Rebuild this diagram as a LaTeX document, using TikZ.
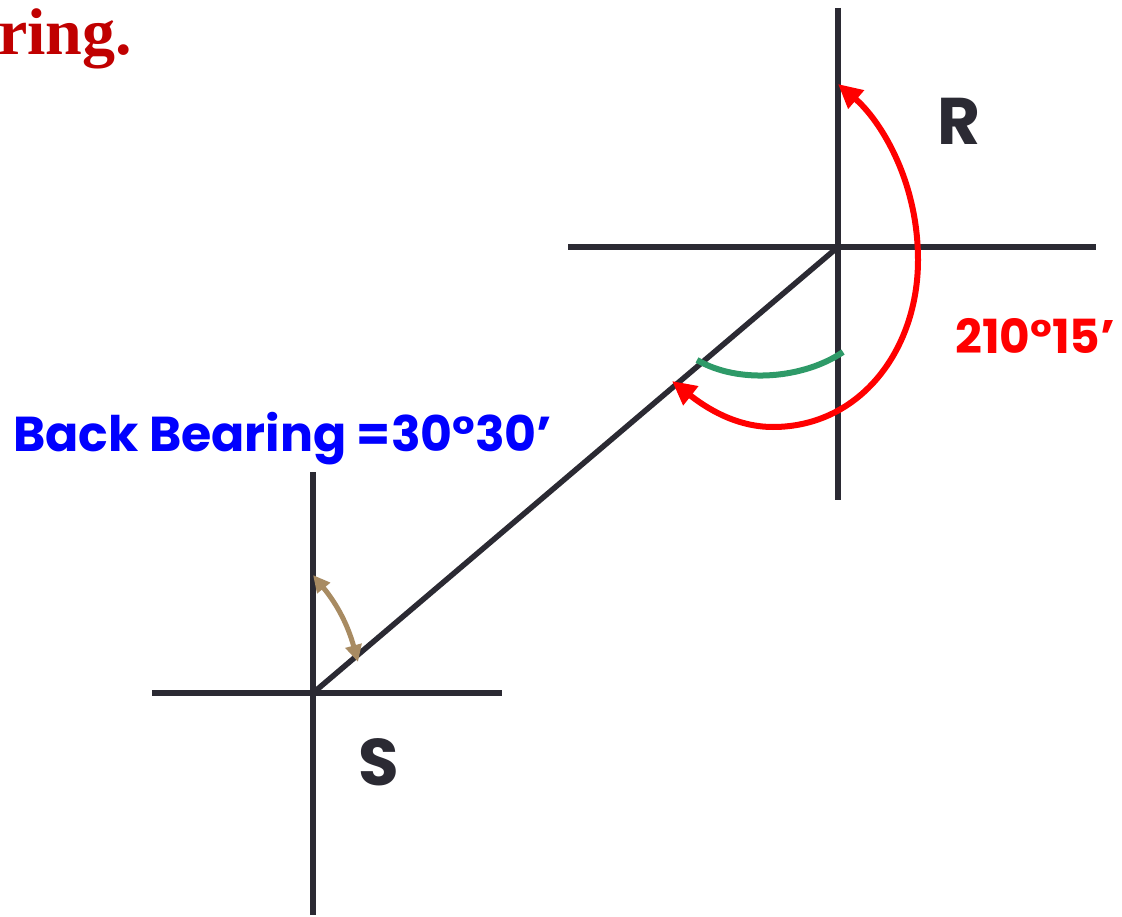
\documentclass[tikz,border=0pt]{standalone}
\usepackage{fontspec}
\setmainfont{Poppins}
\newfontfamily\serifbold{Liberation Serif}
\usetikzlibrary{arrows.meta}
\definecolor{axis}{HTML}{2B2A33}
\definecolor{redarc}{HTML}{FF0000}
\definecolor{greenarc}{HTML}{2E9A68}
\definecolor{tan}{HTML}{A88B62}
\definecolor{titlered}{HTML}{C00000}
\definecolor{bluetext}{HTML}{0000FF}
\tikzset{
  axisline/.style={draw=axis, line width=5.5pt},
  redarrow/.style={draw=redarc, line width=6pt, {Triangle[length=24pt,width=23pt]}-{Triangle[length=24pt,width=23pt]}},
  greenline/.style={draw=greenarc, line width=6pt},
  tanarrow/.style={draw=tan, line width=5pt, {Triangle[length=17pt,width=16pt]}-{Triangle[length=17pt,width=16pt]}},
  ptlabel/.style={text=axis, font=\bfseries\fontsize{66}{66}\selectfont, inner sep=0pt},
}
\begin{document}
\begin{tikzpicture}[x=1pt, y=-1pt]
\useasboundingbox (0,0) rectangle (1122,917);
% partial title
\node[anchor=base west, inner sep=0pt, text=titlered, font=\serifbold\bfseries\fontsize{66}{66}\selectfont] (title) at (-2,55) {ring.};
% station R
\coordinate (R) at (838,247);
\coordinate (Rn) at (838,8);
\coordinate (Rs) at (838,500);
\coordinate (Rw) at (568,247);
\coordinate (Re) at (1096,247);
\draw[axisline] (Rn) -- (Rs);
\draw[axisline] (Rw) -- (Re);
% station S
\coordinate (S) at (313,693);
\coordinate (Sn) at (313,472);
\coordinate (Ss) at (313,915);
\coordinate (Sw) at (152,693);
\coordinate (Se) at (502,693);
\draw[axisline] (Sn) -- (Ss);
\draw[axisline] (Sw) -- (Se);
% survey line
\draw[axisline, line cap=round] (S) -- (R);
% green angle arc
\coordinate (g1) at (697,360);
\coordinate (g2) at (843,352);
\draw[greenline] (g1) .. controls (740,385) and (805,378) .. (g2);
% red bearing arc
\coordinate (r1) at (672,381);
\coordinate (r2) at (838,84);
\draw[redarrow] (r1) .. controls (705,407) and (735,427) .. (773,427)
   .. controls (860,427) and (918,350) .. (918,260)
   .. controls (918,180) and (880,120) .. (r2);
% tan angle arrow
\coordinate (t1) at (313,575);
\coordinate (t2) at (358,662);
\draw[tanarrow] (t1) to[bend left=12] (t2);
% labels
\node[ptlabel] (Rlab) at (959,121) {R};
\node[ptlabel] (Slab) at (379,762) {S};
\node[text=redarc, font=\bfseries\fontsize{47}{47}\selectfont, inner sep=0pt, anchor=base west] (fb) at (955,353) {210°15’};
\node[text=bluetext, font=\bfseries\fontsize{49}{49}\selectfont, inner sep=0pt, anchor=base west] (bb) at (13,451) {Back Bearing =30°30’};
\end{tikzpicture}
\end{document}
